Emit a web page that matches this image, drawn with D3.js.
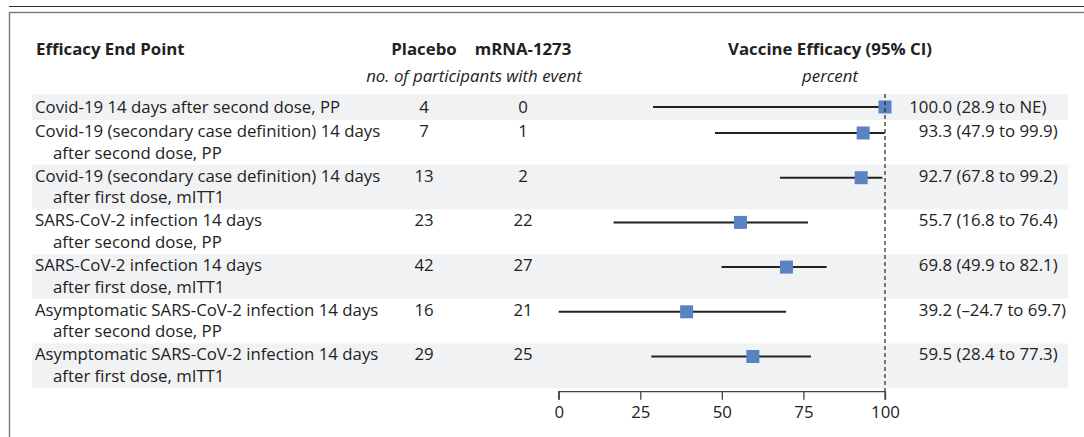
<!DOCTYPE html>
<html>
<head>
<meta charset="utf-8">
<script src="https://cdn.jsdelivr.net/npm/d3@7"></script>
<style>
  body { margin: 0; background: #fff; }
  svg text { font-family: "Open Sans", Lato, sans-serif; fill: #222; }
</style>
</head>
<body>
<script>
// the data
var labels = [
  ["Covid-19 14 days after second dose, PP"],
  ["Covid-19 (secondary case definition) 14 days", "after second dose, PP"],
  ["Covid-19 (secondary case definition) 14 days", "after first dose, mITT1"],
  ["SARS-CoV-2 infection 14 days", "after second dose, PP"],
  ["SARS-CoV-2 infection 14 days", "after first dose, mITT1"],
  ["Asymptomatic SARS-CoV-2 infection 14 days", "after second dose, PP"],
  ["Asymptomatic SARS-CoV-2 infection 14 days", "after first dose, mITT1"]
];
var placebo = [4, 7, 13, 23, 42, 16, 29];
var mrna = [0, 1, 2, 22, 27, 21, 25];
var estimate = [100.0, 93.3, 92.7, 55.7, 69.8, 39.2, 59.5];
var lower = [28.9, 47.9, 67.8, 16.8, 49.9, -24.7, 28.4];
var upper = [null, 99.9, 99.2, 76.4, 82.1, 69.7, 77.3]; // null = NE
var ticks = [0, 25, 50, 75, 100];

var fmt = d3.format(".1f");
function ciText(i) {
  var lo = lower[i] < 0 ? "\u2013" + fmt(-lower[i]) : fmt(lower[i]);
  var hi = upper[i] == null ? "NE" : fmt(upper[i]);
  return "(" + lo + " to " + hi + ")";
}

var width = 1084, height = 437;
var fontSize = 16.8;
var svg = d3.select("body").append("svg")
  .attr("width", width)
  .attr("height", height);

// frame
svg.append("line")
  .attr("x1", 9).attr("x2", width).attr("y1", 6.5).attr("y2", 6.5)
  .attr("stroke", "#333").attr("stroke-width", 1);
svg.append("rect")
  .attr("x", 9.5).attr("y", 12.5).attr("width", width + 20).attr("height", height)
  .attr("fill", "none").attr("stroke", "#777").attr("stroke-width", 1.4);

// row layout: one-line rows are shorter
var rowTops = [];
var rowY = 94;
labels.forEach(function(l) {
  rowTops.push(rowY);
  rowY += l.length > 1 ? 44.7 : 26;
});
var bottomRows = rowY;

function baseY(d) { return d.length > 1 ? 16.8 : 18.7; }

var x = d3.scaleLinear().domain([0, 100]).range([558.7, 885]);

var rows = svg.selectAll("g.row")
  .data(labels)
  .enter().append("g")
  .attr("class", "row")
  .attr("transform", function(d, i) { return "translate(0," + rowTops[i] + ")"; });

rows.append("rect")
  .attr("x", 32)
  .attr("width", 1068 - 32)
  .attr("height", function(d, i) { return (i + 1 < rowTops.length ? rowTops[i + 1] : bottomRows) - rowTops[i]; })
  .attr("fill", function(d, i) { return i % 2 == 0 ? "#f1f2f4" : "none"; });

rows.each(function(d, i) {
  var g = d3.select(this);
  d.forEach(function(line, j) {
    g.append("text")
      .attr("x", j == 0 ? 35 : 53)
      .attr("y", baseY(d) + j * 21.8)
      .attr("font-size", fontSize)
      .text(line);
  });
});

rows.append("text")
  .attr("x", 424).attr("y", baseY)
  .attr("text-anchor", "middle").attr("font-size", fontSize)
  .text(function(d, i) { return placebo[i]; });
rows.append("text")
  .attr("x", 523).attr("y", baseY)
  .attr("text-anchor", "middle").attr("font-size", fontSize)
  .text(function(d, i) { return mrna[i]; });

// reference line at 100
svg.append("line")
  .attr("x1", x(100)).attr("x2", x(100))
  .attr("y1", 94).attr("y2", 391.7)
  .attr("stroke", "#333").attr("stroke-width", 1.3)
  .attr("stroke-dasharray", "4,3");

// CIs and point estimates
rows.append("line")
  .attr("x1", function(d, i) { return x(Math.max(0, lower[i])); })
  .attr("x2", function(d, i) { return x(upper[i] == null ? 100 : upper[i]); })
  .attr("y1", 13).attr("y2", 13)
  .attr("stroke", "#222").attr("stroke-width", 2);
rows.append("rect")
  .attr("x", function(d, i) { return x(estimate[i]) - 6.5; })
  .attr("y", 13 - 6.5)
  .attr("width", 13).attr("height", 13)
  .attr("fill", "#5a83c4");

rows.append("text")
  .attr("x", 952).attr("y", baseY)
  .attr("text-anchor", "end").attr("font-size", fontSize)
  .text(function(d, i) { return fmt(estimate[i]); });
rows.append("text")
  .attr("x", 956.5).attr("y", baseY)
  .attr("font-size", fontSize)
  .text(function(d, i) { return ciText(i); });

// axis
var axis = svg.append("g")
  .attr("transform", "translate(0,391.7)")
  .call(d3.axisBottom(x).tickValues(ticks).tickSize(8).tickPadding(6).tickFormat(d3.format("d")));
axis.select(".domain").attr("stroke", "#444").attr("stroke-width", 1.3)
  .attr("d", "M" + x(0) + ",8V0H" + x(100) + "V8");
axis.selectAll(".tick line").attr("stroke", "#444").attr("stroke-width", 1.3);
axis.selectAll(".tick text")
  .attr("font-size", fontSize)
  .attr("font-family", "'Open Sans', Lato, sans-serif")
  .attr("fill", "#222");

// headers
svg.append("text").attr("x", 36).attr("y", 55)
  .attr("font-size", fontSize).attr("font-weight", "bold").text("Efficacy End Point");
svg.append("text").attr("x", 424).attr("y", 55).attr("text-anchor", "middle")
  .attr("font-size", fontSize).attr("font-weight", "bold").text("Placebo");
svg.append("text").attr("x", 523).attr("y", 55).attr("text-anchor", "middle")
  .attr("font-size", fontSize).attr("font-weight", "bold").text("mRNA-1273");
svg.append("text").attr("x", 474).attr("y", 82).attr("text-anchor", "middle")
  .attr("font-size", fontSize).attr("font-style", "italic").text("no. of participants with event");
svg.append("text").attr("x", 830).attr("y", 55).attr("text-anchor", "middle")
  .attr("font-size", fontSize).attr("font-weight", "bold").text("Vaccine Efficacy (95% CI)");
svg.append("text").attr("x", 830).attr("y", 82).attr("text-anchor", "middle")
  .attr("font-size", fontSize).attr("font-style", "italic").text("percent");
</script>
</body>
</html>
